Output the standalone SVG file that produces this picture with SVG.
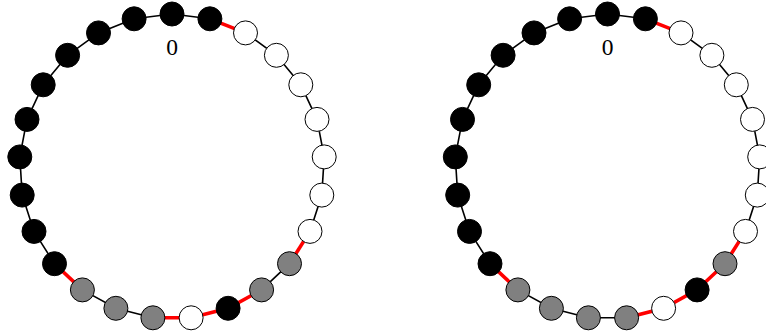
<svg xmlns="http://www.w3.org/2000/svg" width="766" height="336" viewBox="0 0 766 336">
<style>
.e{stroke:#000;stroke-width:1.6;fill:none}
.r{stroke:#ff0000;stroke-width:3.6;fill:none}
.n{stroke:#000;stroke-width:1}
.b{fill:#000}
.w{fill:#fff}
.g{fill:#808080}
.lbl{font-family:"Liberation Serif",serif;font-size:23.5px;fill:#000;text-anchor:middle}
</style>
<rect width="766" height="336" fill="#fff"/>
<g id="connectors" transform="translate(0.5,0)">
<polyline class="e" points="133.6,18.8 171.5,14 209.4,18.8"/>
<line class="r" x1="209.4" y1="18.8" x2="245" y2="32.9"/>
<polyline class="e" points="245,32.9 275.9,55.3 300.3,84.8 316.5,119.4 323.7,156.9 321.3,195.1 309.5,231.4"/>
<line class="r" x1="309.5" y1="231.4" x2="289" y2="263.7"/>
<line class="e" x1="289" y1="263.7" x2="261.1" y2="289.9"/>
<polyline class="r" points="261.1,289.9 227.6,308.3 190.6,317.8 152.4,317.8"/>
<polyline class="e" points="152.4,317.8 115.4,308.3 81.9,289.9"/>
<line class="r" x1="81.9" y1="289.9" x2="54" y2="263.7"/>
<polyline class="e" points="54,263.7 33.5,231.4 21.7,195.1 19.3,156.9 26.5,119.4 42.7,84.8 67.1,55.3 98,32.9 133.6,18.8"/>

<polyline class="e" points="569.1,18.8 607,14 644.9,18.8"/>
<line class="r" x1="644.9" y1="18.8" x2="680.5" y2="32.9"/>
<polyline class="e" points="680.5,32.9 711.4,55.3 735.8,84.8 752,119.4 759.2,156.9 756.8,195.1 745,231.4"/>
<polyline class="r" points="745,231.4 724.5,263.7 696.6,289.9 663.1,308.3 626.1,317.8"/>
<polyline class="e" points="626.1,317.8 587.9,317.8 550.9,308.3 517.4,289.9"/>
<line class="r" x1="517.4" y1="289.9" x2="489.5" y2="263.7"/>
<polyline class="e" points="489.5,263.7 469,231.4 457.2,195.1 454.8,156.9 462,119.4 478.2,84.8 502.6,55.3 533.5,32.9 569.1,18.8"/>
</g>
<g id="left-ring" transform="translate(0.5,0)">
<g id="L0"><circle class="n b" cx="171.5" cy="14" r="12"/></g>
<g id="L1"><circle class="n b" cx="209.4" cy="18.8" r="12"/></g>
<g id="L2"><circle class="n w" cx="245" cy="32.9" r="12"/></g>
<g id="L3"><circle class="n w" cx="275.9" cy="55.3" r="12"/></g>
<g id="L4"><circle class="n w" cx="300.3" cy="84.8" r="12"/></g>
<g id="L5"><circle class="n w" cx="316.5" cy="119.4" r="12"/></g>
<g id="L6"><circle class="n w" cx="323.7" cy="156.9" r="12"/></g>
<g id="L7"><circle class="n w" cx="321.3" cy="195.1" r="12"/></g>
<g id="L8"><circle class="n w" cx="309.5" cy="231.4" r="12"/></g>
<g id="L9"><circle class="n g" cx="289" cy="263.7" r="12"/></g>
<g id="L10"><circle class="n g" cx="261.1" cy="289.9" r="12"/></g>
<g id="L11"><circle class="n b" cx="227.6" cy="308.3" r="12"/></g>
<g id="L12"><circle class="n w" cx="190.6" cy="317.8" r="12"/></g>
<g id="L13"><circle class="n g" cx="152.4" cy="317.8" r="12"/></g>
<g id="L14"><circle class="n g" cx="115.4" cy="308.3" r="12"/></g>
<g id="L15"><circle class="n g" cx="81.9" cy="289.9" r="12"/></g>
<g id="L16"><circle class="n b" cx="54" cy="263.7" r="12"/></g>
<g id="L17"><circle class="n b" cx="33.5" cy="231.4" r="12"/></g>
<g id="L18"><circle class="n b" cx="21.7" cy="195.1" r="12"/></g>
<g id="L19"><circle class="n b" cx="19.3" cy="156.9" r="12"/></g>
<g id="L20"><circle class="n b" cx="26.5" cy="119.4" r="12"/></g>
<g id="L21"><circle class="n b" cx="42.7" cy="84.8" r="12"/></g>
<g id="L22"><circle class="n b" cx="67.1" cy="55.3" r="12"/></g>
<g id="L23"><circle class="n b" cx="98" cy="32.9" r="12"/></g>
<g id="L24"><circle class="n b" cx="133.6" cy="18.8" r="12"/></g>
<g id="L-label"><text class="lbl" x="171.5" y="54.5">0</text></g>
</g>
<g id="right-ring" transform="translate(0.5,0)">
<g id="R0"><circle class="n b" cx="607" cy="14" r="12"/></g>
<g id="R1"><circle class="n b" cx="644.9" cy="18.8" r="12"/></g>
<g id="R2"><circle class="n w" cx="680.5" cy="32.9" r="12"/></g>
<g id="R3"><circle class="n w" cx="711.4" cy="55.3" r="12"/></g>
<g id="R4"><circle class="n w" cx="735.8" cy="84.8" r="12"/></g>
<g id="R5"><circle class="n w" cx="752" cy="119.4" r="12"/></g>
<g id="R6"><circle class="n w" cx="759.2" cy="156.9" r="12"/></g>
<g id="R7"><circle class="n w" cx="756.8" cy="195.1" r="12"/></g>
<g id="R8"><circle class="n w" cx="745" cy="231.4" r="12"/></g>
<g id="R9"><circle class="n g" cx="724.5" cy="263.7" r="12"/></g>
<g id="R10"><circle class="n b" cx="696.6" cy="289.9" r="12"/></g>
<g id="R11"><circle class="n w" cx="663.1" cy="308.3" r="12"/></g>
<g id="R12"><circle class="n g" cx="626.1" cy="317.8" r="12"/></g>
<g id="R13"><circle class="n g" cx="587.9" cy="317.8" r="12"/></g>
<g id="R14"><circle class="n g" cx="550.9" cy="308.3" r="12"/></g>
<g id="R15"><circle class="n g" cx="517.4" cy="289.9" r="12"/></g>
<g id="R16"><circle class="n b" cx="489.5" cy="263.7" r="12"/></g>
<g id="R17"><circle class="n b" cx="469" cy="231.4" r="12"/></g>
<g id="R18"><circle class="n b" cx="457.2" cy="195.1" r="12"/></g>
<g id="R19"><circle class="n b" cx="454.8" cy="156.9" r="12"/></g>
<g id="R20"><circle class="n b" cx="462" cy="119.4" r="12"/></g>
<g id="R21"><circle class="n b" cx="478.2" cy="84.8" r="12"/></g>
<g id="R22"><circle class="n b" cx="502.6" cy="55.3" r="12"/></g>
<g id="R23"><circle class="n b" cx="533.5" cy="32.9" r="12"/></g>
<g id="R24"><circle class="n b" cx="569.1" cy="18.8" r="12"/></g>
<g id="R-label"><text class="lbl" x="607" y="54.5">0</text></g>
</g>
</svg>
